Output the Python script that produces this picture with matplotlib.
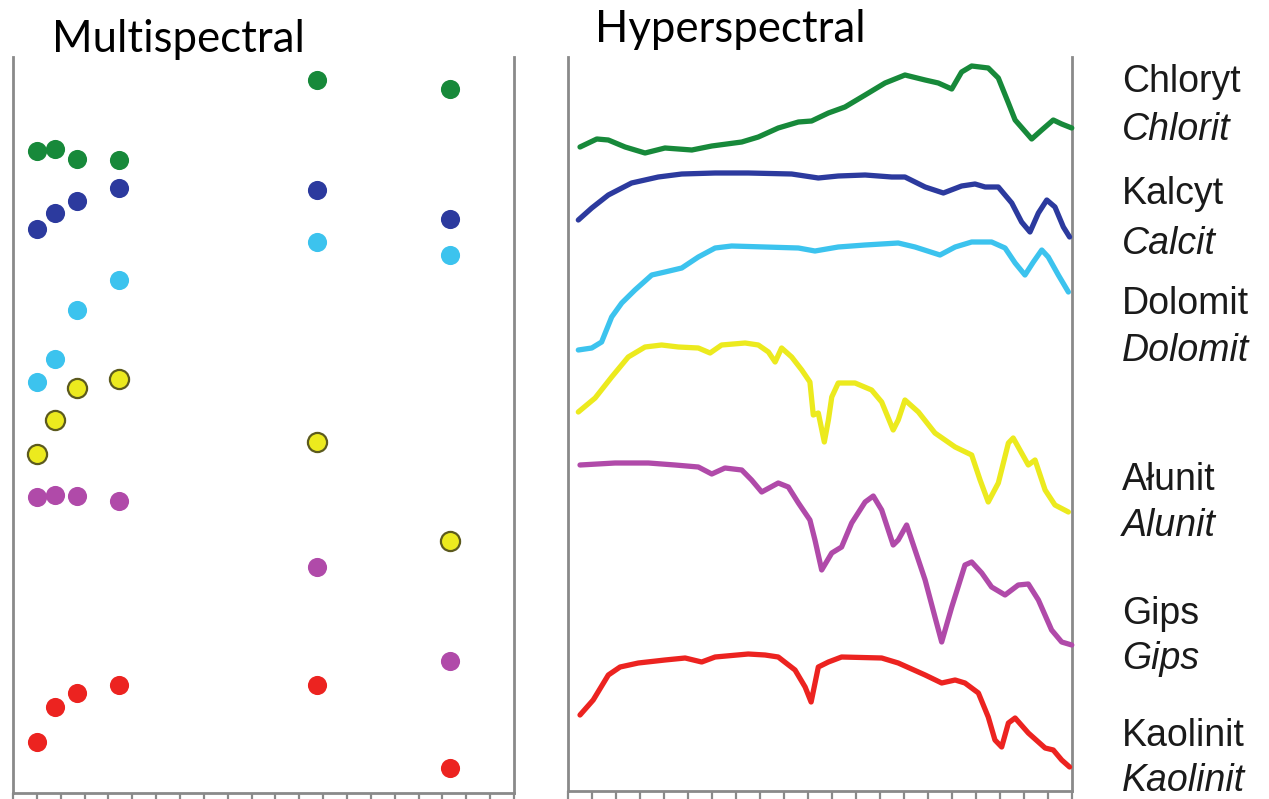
import matplotlib
matplotlib.use("Agg")
import matplotlib.pyplot as plt
import numpy as np

# ---- Multispectral band centres (µm) and band reflectance (relative, offset) ----
bands_um = [0.50, 0.575, 0.67, 0.845, 1.675, 2.23]
multi_chlorite = [64.2, 64.4, 63.4, 63.3, 71.3, 70.4]
multi_calcite = [56.4, 58.0, 59.2, 60.5, 60.3, 57.4]
multi_dolomite = [41.1, 43.4, 48.3, 51.3, 55.1, 53.8]
multi_alunite = [33.9, 37.3, 40.5, 41.4, 35.1, 25.2]
multi_gypsum = [29.6, 29.8, 29.7, 29.2, 22.6, 13.2]
multi_kaolinite = [5.1, 8.6, 10.0, 10.8, 10.8, 2.5]

# ---- Hyperspectral continuous spectra (µm, relative reflectance, offset) ----
wl_chlorite = [0.45, 0.52, 0.568, 0.638, 0.721, 0.804, 0.86, 0.916, 0.999, 1.124,
               1.193, 1.276, 1.36, 1.415, 1.485, 1.554, 1.638, 1.721, 1.804, 1.888,
               1.943, 1.999, 2.04, 2.082, 2.151, 2.193, 2.235, 2.263, 2.332, 2.374,
               2.422, 2.457, 2.499]
hyp_chlorite = [64.6, 65.4, 65.3, 64.6, 64.0, 64.5, 64.4, 64.3, 64.7, 65.1,
                65.6, 66.5, 67.1, 67.2, 68.0, 68.6, 69.8, 71.0, 71.8, 71.3,
                71.0, 70.4, 72.1, 72.7, 72.5, 71.5, 69.0, 67.3, 65.4, 66.3,
                67.3, 66.9, 66.5]

wl_calcite = [0.443, 0.499, 0.568, 0.665, 0.776, 0.874, 1.013, 1.151, 1.332, 1.443,
              1.526, 1.638, 1.749, 1.804, 1.888, 1.964, 2.04, 2.096, 2.138, 2.193,
              2.249, 2.29, 2.325, 2.36, 2.395, 2.429, 2.464, 2.49]
hyp_calcite = [57.3, 58.5, 59.8, 61.0, 61.6, 61.9, 62.0, 62.0, 61.9, 61.5,
               61.7, 61.8, 61.6, 61.6, 60.6, 60.0, 60.7, 60.9, 60.6, 60.6,
               59.0, 57.1, 56.1, 58.0, 59.3, 58.6, 56.6, 55.6]

wl_dolomite = [0.443, 0.499, 0.54, 0.582, 0.624, 0.679, 0.749, 0.804, 0.874, 0.943,
               1.013, 1.082, 1.221, 1.36, 1.429, 1.526, 1.638, 1.776, 1.846, 1.95,
               2.013, 2.082, 2.165, 2.221, 2.263, 2.304, 2.339, 2.374, 2.401, 2.443,
               2.485]
hyp_dolomite = [44.3, 44.5, 45.1, 47.6, 49.0, 50.3, 51.8, 52.1, 52.5, 53.6,
                54.5, 54.7, 54.6, 54.5, 54.2, 54.6, 54.8, 55.0, 54.6, 53.8,
                54.6, 55.1, 55.1, 54.5, 53.0, 51.8, 53.1, 54.3, 53.6, 51.8,
                50.1]

wl_alunite = [0.443, 0.513, 0.582, 0.651, 0.721, 0.79, 0.86, 0.943, 0.992, 1.04,
              1.138, 1.193, 1.235, 1.263, 1.29, 1.332, 1.374, 1.408, 1.422, 1.443,
              1.468, 1.485, 1.499, 1.526, 1.596, 1.665, 1.707, 1.755, 1.776, 1.804,
              1.86, 1.929, 2.013, 2.082, 2.117, 2.151, 2.193, 2.235, 2.255, 2.283,
              2.318, 2.346, 2.388, 2.429, 2.485]
hyp_alunite = [38.1, 39.5, 41.6, 43.6, 44.6, 44.8, 44.6, 44.5, 44.0, 44.8,
               45.0, 44.8, 44.1, 43.1, 44.5, 43.6, 42.3, 41.1, 37.8, 38.0,
               35.1, 37.3, 39.6, 41.0, 41.0, 40.3, 39.1, 36.3, 37.3, 39.3,
               38.1, 36.0, 34.6, 33.8, 31.3, 29.1, 31.0, 35.0, 35.5, 34.3,
               32.8, 33.3, 30.3, 28.8, 28.1]

wl_gypsum = [0.45, 0.596, 0.735, 0.846, 0.943, 0.999, 1.054, 1.124, 1.165, 1.207,
             1.276, 1.318, 1.36, 1.408, 1.429, 1.457, 1.499, 1.54, 1.582, 1.638,
             1.672, 1.707, 1.755, 1.776, 1.811, 1.846, 1.888, 1.929, 1.957, 1.999,
             2.054, 2.082, 2.124, 2.165, 2.221, 2.276, 2.318, 2.36, 2.415, 2.457,
             2.499]
hyp_gypsum = [32.8, 33.0, 33.0, 32.8, 32.6, 31.9, 32.5, 32.3, 31.3, 30.1,
              31.0, 30.6, 29.0, 27.3, 25.3, 22.3, 24.0, 24.6, 27.0, 29.1,
              29.7, 28.3, 24.8, 25.3, 26.8, 24.3, 21.3, 17.6, 15.1, 18.6,
              22.8, 23.1, 22.0, 20.6, 19.8, 20.8, 20.9, 19.3, 16.3, 15.1,
              14.8]

wl_kaolinite = [0.45, 0.505, 0.568, 0.617, 0.693, 0.804, 0.888, 0.957, 1.013, 1.151,
                1.221, 1.276, 1.346, 1.388, 1.413, 1.443, 1.485, 1.54, 1.707, 1.776,
                1.888, 1.957, 2.013, 2.054, 2.11, 2.151, 2.179, 2.207, 2.235, 2.263,
                2.318, 2.388, 2.422, 2.457, 2.49]
hyp_kaolinite = [7.8, 9.3, 11.8, 12.6, 13.0, 13.3, 13.5, 13.1, 13.6, 13.9,
                 13.8, 13.6, 12.3, 10.6, 9.1, 12.6, 13.1, 13.6, 13.5, 13.0,
                 11.8, 11.0, 11.3, 11.0, 10.0, 7.6, 5.3, 4.6, 7.0, 7.5,
                 6.0, 4.5, 4.3, 3.3, 2.6]

names_pl = ["Chloryt", "Kalcyt", "Dolomit", "Ałunit", "Gips", "Kaolinit"]
names_en = ["Chlorit", "Calcit", "Dolomit", "Alunit", "Gips", "Kaolinit"]

colors = ["#17893a", "#2c3a9e", "#3cc3ee", "#ecea1e", "#b04aa9", "#ec2320"]

W, H = 1269, 799
fig = plt.figure(figsize=(W / 100, H / 100), dpi=100)


def px_axes(x0, y0, x1, y1):
    return fig.add_axes([x0 / W, 1 - y1 / H, (x1 - x0) / W, (y1 - y0) / H])


def style(ax, ylo):
    ax.set_xlim(0.4, 2.5)
    ax.set_ylim(ylo, 73.6)
    ax.set_xticks(np.round(np.arange(0.4, 2.5001, 0.1), 2))
    ax.set_xticklabels([])
    ax.set_yticks([])
    ax.spines["top"].set_visible(False)
    for s in ("left", "right", "bottom"):
        ax.spines[s].set_color("#8a8a8a")
        ax.spines[s].set_linewidth(2.0)
    ax.tick_params(axis="x", direction="out", length=7, width=1.6, color="#8a8a8a")


# Multispectral panel
ax1 = px_axes(13, 57, 514, 793)
style(ax1, 0.0)
multi = [multi_chlorite, multi_calcite, multi_dolomite,
         multi_alunite, multi_gypsum, multi_kaolinite]
for i, (vals, c) in enumerate(zip(multi, colors)):
    edge = "#5c5a1e" if i == 3 else c
    lw = 1.6 if i == 3 else 0.0
    ax1.scatter(bands_um, vals, s=190, color=c, edgecolors=edge,
                linewidths=lw, zorder=3)

# Hyperspectral panel
ax2 = px_axes(568, 57, 1072, 791)
style(ax2, 0.2)
spectra = [(wl_chlorite, hyp_chlorite), (wl_calcite, hyp_calcite),
           (wl_dolomite, hyp_dolomite), (wl_alunite, hyp_alunite),
           (wl_gypsum, hyp_gypsum), (wl_kaolinite, hyp_kaolinite)]
for (wl, r), c in zip(spectra, colors):
    ax2.plot(wl, r, color=c, lw=3.8, solid_joinstyle="round",
             solid_capstyle="round", clip_on=False, zorder=3)

# Panel titles
fig.text(178 / W, 1 - 52 / H, "Multispectral", ha="center", va="baseline",
         fontsize=31.5, family="Lato")
fig.text(730 / W, 1 - 42 / H, "Hyperspectral", ha="center", va="baseline",
         fontsize=31.5, family="Lato")

# Mineral names (Polish / English italic)
base_pl = [92, 204, 314, 490, 624, 746]
base_en = [140, 254, 361, 536, 669, 791]
for n_pl, n_en, b1, b2 in zip(names_pl, names_en, base_pl, base_en):
    fig.text(1122 / W, 1 - b1 / H, n_pl, ha="left", va="baseline",
             fontsize=27, family="Liberation Sans", color="#1a1a1a")
    fig.text(1122 / W, 1 - b2 / H, n_en, ha="left", va="baseline",
             fontsize=27, family="Liberation Sans", style="italic", color="#1a1a1a")

fig.savefig("out.png", dpi=100)
